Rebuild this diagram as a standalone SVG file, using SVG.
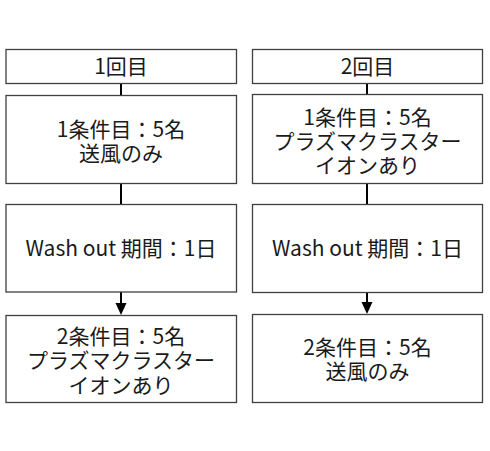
<svg xmlns="http://www.w3.org/2000/svg" width="490" height="451" viewBox="0 0 490 451">
<defs>
<style>
.box{fill:#ffffff;stroke:#404040;stroke-width:1.3}
.t{font-family:"Noto Sans CJK JP","Noto Sans",sans-serif;font-size:21px;fill:#1a1a1a;text-anchor:middle}
.c{stroke:#000000;stroke-width:2;fill:none}
</style>
<marker id="ah" markerWidth="11" markerHeight="12" refX="5.5" refY="12" orient="auto-start-reverse" markerUnits="userSpaceOnUse" viewBox="0 0 11 12">
<path d="M0,0 L11,0 L5.5,12 Z" fill="#000000"/>
</marker>
</defs>
<rect width="490" height="451" fill="#ffffff"/>
<g id="connectors">
<line class="c" x1="121" y1="84" x2="121" y2="95"/>
<line class="c" x1="121" y1="183" x2="121" y2="204"/>
<path class="c" d="M121,292 L121,304"/>
<path d="M115.5,303 L126.5,303 L121,315 Z" fill="#000000"/>
<line class="c" x1="367" y1="84" x2="367" y2="94"/>
<line class="c" x1="367" y1="183" x2="367" y2="204"/>
<path class="c" d="M367,292.5 L367,303"/>
<path d="M361.5,302 L372.5,302 L367,314 Z" fill="#000000"/>
</g>
<g id="n1">
<rect class="box" x="6" y="49.5" width="230.5" height="34"/>
<text class="t" x="121" y="74">1回目</text>
</g>
<g id="n2">
<rect class="box" x="6" y="95.5" width="230.5" height="88"/>
<text class="t" x="121" y="136.5">1条件目：5名</text>
<text class="t" x="121" y="161">送風のみ</text>
</g>
<g id="n3">
<rect class="box" x="6" y="204.5" width="230.5" height="87.5"/>
<text class="t" x="121" y="256">Wash out 期間：1日</text>
</g>
<g id="n4">
<rect class="box" x="6" y="315.5" width="230.5" height="87"/>
<text class="t" x="121" y="343.5">2条件目：5名</text>
<text class="t" x="121" y="368">プラズマクラスター</text>
<text class="t" x="121" y="392.5">イオンあり</text>
</g>
<g id="m1">
<rect class="box" x="252.5" y="49.5" width="230" height="34"/>
<text class="t" x="367.5" y="74">2回目</text>
</g>
<g id="m2">
<rect class="box" x="252.5" y="94.5" width="230" height="89"/>
<text class="t" x="367.5" y="124.5">1条件目：5名</text>
<text class="t" x="367.5" y="148.5">プラズマクラスター</text>
<text class="t" x="367.5" y="172.5">イオンあり</text>
</g>
<g id="m3">
<rect class="box" x="252.5" y="204.5" width="230" height="88"/>
<text class="t" x="367.5" y="256">Wash out 期間：1日</text>
</g>
<g id="m4">
<rect class="box" x="252.5" y="314.5" width="230" height="88"/>
<text class="t" x="367.5" y="355">2条件目：5名</text>
<text class="t" x="367.5" y="378.5">送風のみ</text>
</g>
</svg>
